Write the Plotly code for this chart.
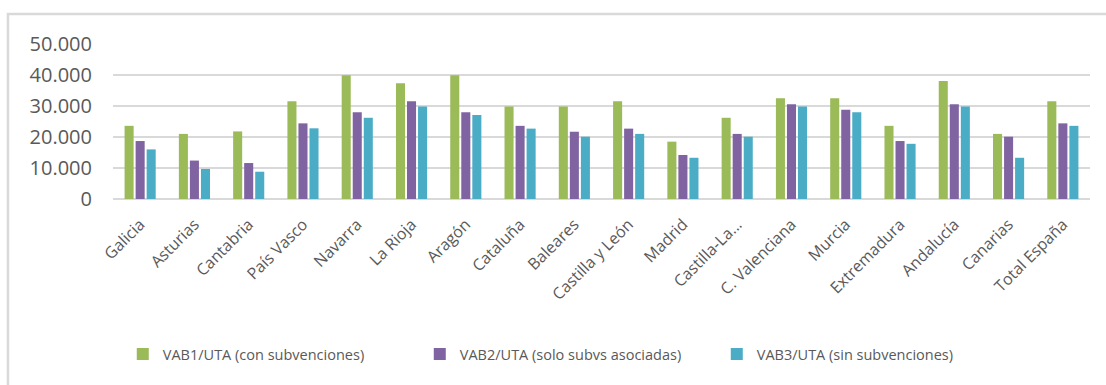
import plotly.graph_objects as go

categories = ["Galicia", "Asturias", "Cantabria", "País Vasco", "Navarra", "La Rioja",
              "Aragón", "Cataluña", "Baleares", "Castilla y León", "Madrid", "Castilla-La...",
              "C. Valenciana", "Murcia", "Extremadura", "Andalucía", "Canarias", "Total España"]

vab1 = [23600, 21000, 21800, 31500, 39900, 37300, 39900, 29800, 29800, 31500, 18500, 26200,
        32500, 32500, 23600, 38100, 21000, 31500]
vab2 = [18700, 12400, 11600, 24400, 28000, 31500, 28000, 23600, 21700, 22700, 14200, 21000,
        30600, 28800, 18700, 30600, 20100, 24400]
vab3 = [16000, 9700, 8800, 22800, 26200, 29800, 27100, 22700, 20100, 21000, 13300, 20100,
        29800, 28000, 17800, 29800, 13300, 23600]

series_names = ["VAB1/UTA (con subvenciones)", "VAB2/UTA (solo subvs asociadas)",
                "VAB3/UTA (sin subvenciones)"]
colors = ["#9BBB59", "#8064A2", "#4BACC6"]

fig = go.Figure()
for name, vals, col in zip(series_names, [vab1, vab2, vab3], colors):
    fig.add_trace(go.Bar(x=categories, y=vals, name=name, marker_color=col,
                         marker_line_width=0))

fig.update_layout(
    width=1106, height=385,
    margin=dict(l=113, r=16, t=44, b=186),
    paper_bgcolor="white", plot_bgcolor="white",
    separators=",.",
    barmode="group", bargap=0.39, bargroupgap=0.18,
    font=dict(family="Open Sans", color="#595959"),
    showlegend=True,
    legend=dict(orientation="h", x=0.01, xanchor="left", y=-1.0, yanchor="middle",
                font=dict(size=14.5, color="#595959"), itemwidth=30,
                entrywidth=252, entrywidthmode="pixels",
                traceorder="normal"),
    xaxis=dict(tickangle=-45, tickfont=dict(size=16, color="#595959"),
               showgrid=False, showline=False, ticks="", ticklabelstandoff=12),
    yaxis=dict(range=[0, 50000], dtick=10000, tickformat=",d",
               tickfont=dict(size=20, color="#595959"),
               gridcolor="#d9d9d9", gridwidth=1.5, zeroline=True,
               zerolinecolor="#d9d9d9", zerolinewidth=1.5, showline=False,
               ticks="", ticklabelstandoff=20),
    shapes=[dict(type="rect", xref="paper", yref="paper",
                 x0=-0.1075, x1=1.03, y0=-1.25, y1=1.193,
                 line=dict(color="#d9d9d9", width=2.5), fillcolor="rgba(0,0,0,0)",
                 layer="below")],
)

fig.write_html("out.html")
